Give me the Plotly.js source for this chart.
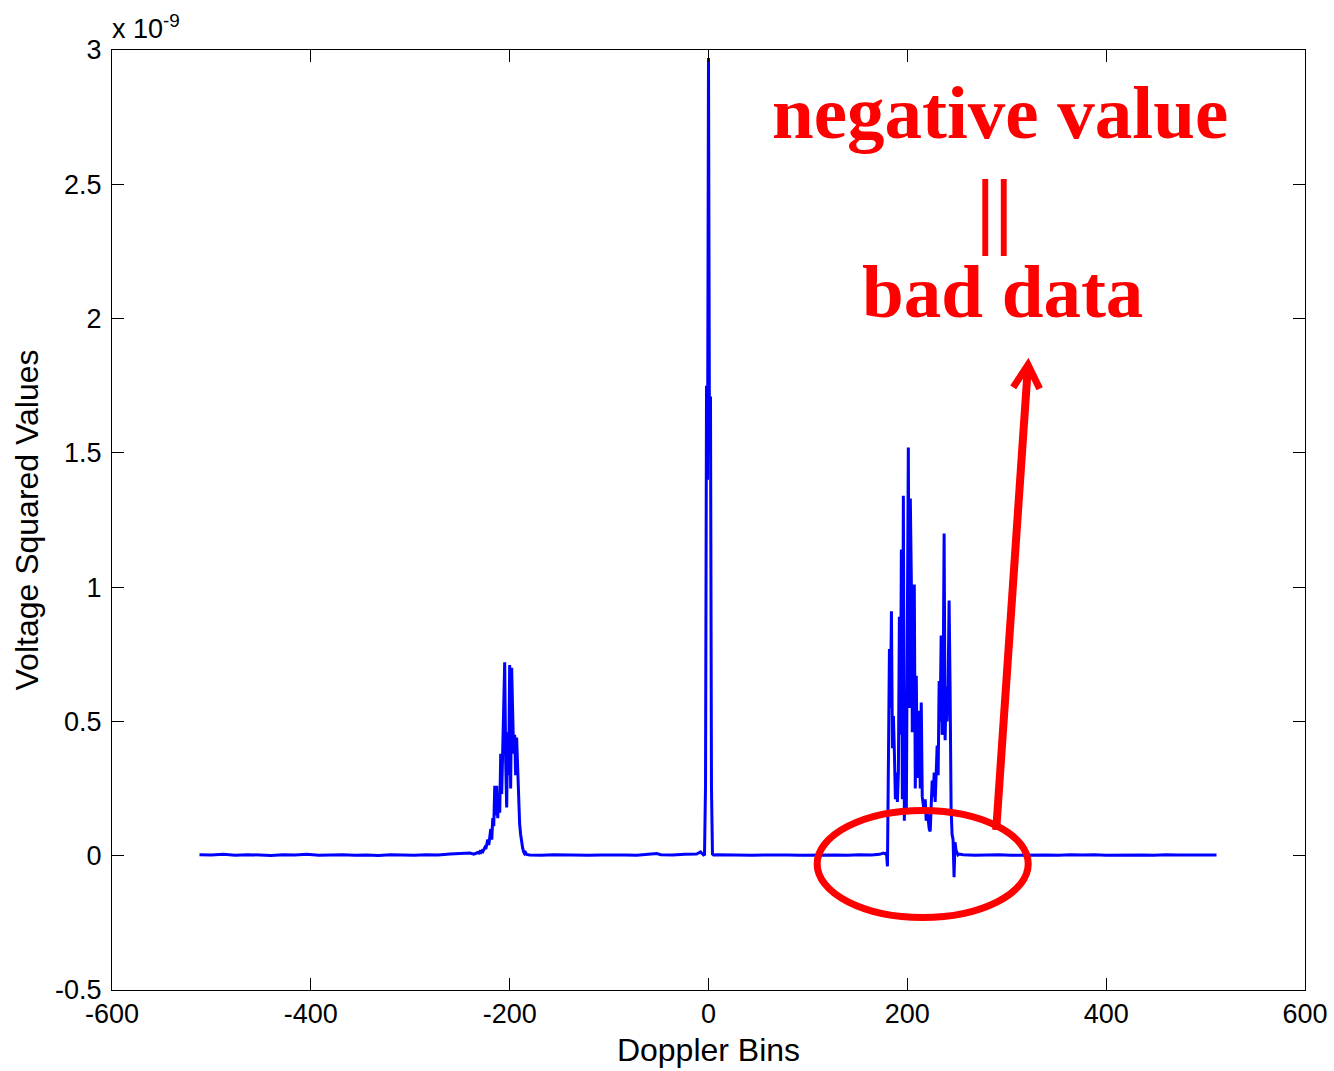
<!DOCTYPE html>
<html>
<head>
<meta charset="utf-8">
<script src="https://cdn.plot.ly/plotly-3.0.1.min.js"></script>
<style>html,body{margin:0;padding:0;background:#fff;}#chart{width:1334px;height:1071px;}</style>
</head>
<body>
<div id="chart"></div>
<script>
// Values are in units of 1e-9 (axis multiplier "x 10^-9")
var baseLeftBins = [-512,-500,-488,-476,-464,-452,-440,-428,-416,-404,-392,-380,-368,-356,-344,-332,-320,-308,-296,-284,-272,-260,-248,-240,-236,-233];
var baseLeftVals = [0.004,0.003,0.005,0.002,0.004,0.003,0.001,0.004,0.003,0.005,0.002,0.003,0.004,0.002,0.003,0.001,0.004,0.003,0.002,0.004,0.003,0.006,0.008,0.010,0.006,0.010];

var clusterLeftStart = -232;
var clusterLeftVals = [0.012,0.010,0.015,0.012,0.018,0.015,0.022,0.030,0.025,0.045,0.060,0.040,0.070,0.100,0.060,0.140,0.110,0.260,0.150,0.260,0.140,0.230,0.160,0.380,0.230,0.430,0.640,0.720,0.350,0.180,0.460,0.300,0.710,0.250,0.700,0.450,0.380,0.450,0.300,0.440,0.320,0.200,0.120,0.080,0.050,0.030,0.015,0.008,0.012,0.005];

var baseMidBins = [-180,-168,-156,-144,-132,-120,-108,-96,-84,-72,-60,-52,-48,-36,-24,-16,-12,-10,-8,-7,-6,-5];
var baseMidVals = [0.003,0.002,0.004,0.003,0.004,0.002,0.003,0.004,0.003,0.002,0.004,0.008,0.004,0.003,0.005,0.004,0.006,0.010,0.014,0.010,0.005,0.003];

var centerBins = [-4,-3,-2,-1,0,1,2,3,4,5];
var centerVals = [0.005,0.26,1.75,1.40,2.97,1.50,1.71,0.25,0.006,0.003];

var baseMid2Bins = [8,20,32,44,56,68,80,92,104,116,128,140,152,164,172,176];
var baseMid2Vals = [0.004,0.003,0.004,0.002,0.003,0.004,0.003,0.002,0.003,0.004,0.003,0.002,0.004,0.003,0.005,0.010];

var clusterRightStart = 178;
var clusterRightVals = [0.006,0.012,-0.040,0.360,0.770,0.550,0.910,0.400,0.520,0.380,0.210,0.310,0.200,0.310,0.890,0.450,1.140,0.210,1.340,0.130,0.600,0.170,1.130,1.520,0.550,1.330,1.030,0.460,0.740,1.010,0.250,0.670,0.290,0.370,0.540,0.250,0.570,0.220,0.190,0.160,0.210,0.130,0.170,0.120,0.100,0.090,0.200,0.280,0.220,0.310,0.200,0.330,0.410,0.300,0.650,0.500,0.820,0.450,0.620,1.200,0.430,0.630,0.500,0.630,0.950,0.630,0.180,0.080,0.060,-0.080,0.050,0.020,0.008,0.003,0.006];

var baseRightBins = [256,268,280,292,304,316,328,340,352,364,376,388,400,412,424,436,448,460,472,484,496,511];
var baseRightVals = [0.004,0.002,0.003,0.004,0.002,0.003,0.004,0.003,0.002,0.004,0.003,0.004,0.002,0.003,0.004,0.003,0.002,0.004,0.003,0.003,0.004,0.003];

var xTickVals = [-600,-400,-200,0,200,400,600];
var xTickText = ['-600','-400','-200','0','200','400','600'];
var yTickVals = [-0.5,0,0.5,1,1.5,2,2.5,3];
var yTickText = ['-0.5','0','0.5','1','1.5','2','2.5','3'];

function binsFrom(start, vals){ return vals.map(function(_, i){ return start + i; }); }

var dopplerBins = [].concat(baseLeftBins, binsFrom(clusterLeftStart, clusterLeftVals), baseMidBins, centerBins, baseMid2Bins, binsFrom(clusterRightStart, clusterRightVals), baseRightBins);
var voltageSq = [].concat(baseLeftVals, clusterLeftVals, baseMidVals, centerVals, baseMid2Vals, clusterRightVals, baseRightVals);

var tickFont = {family: 'Liberation Sans, Arial, sans-serif', size: 27, color: '#000'};
var titleFont = {family: 'Liberation Sans, Arial, sans-serif', size: 32, color: '#000'};
var redFont = {family: 'Liberation Serif, Times New Roman, serif', size: 75, color: '#FF0000', weight: 'bold'};
var barFont = {family: 'Liberation Serif, Times New Roman, serif', size: 84, color: '#FF0000', weight: 'bold'};

var trace = {
  x: dopplerBins, y: voltageSq, type: 'scatter', mode: 'lines',
  line: {color: '#0000FF', width: 3}, hoverinfo: 'skip'
};

var layout = {
  width: 1334, height: 1071,
  margin: {l: 112, r: 29, t: 50, b: 81},
  paper_bgcolor: '#fff', plot_bgcolor: '#fff',
  showlegend: false,
  xaxis: {
    range: [-600, 600], tickmode: 'array', tickvals: xTickVals, ticktext: xTickText,
    ticks: 'inside', ticklen: 12, tickwidth: 1, tickcolor: '#000',
    showline: true, linecolor: '#000', linewidth: 1, mirror: 'ticks',
    showgrid: false, zeroline: false, tickfont: tickFont, ticklabelstandoff: 0,
    title: {text: 'Doppler Bins', font: titleFont, standoff: 10}, automargin: false
  },
  yaxis: {
    range: [-0.5, 3], tickmode: 'array', tickvals: yTickVals, ticktext: yTickText,
    ticks: 'inside', ticklen: 12, tickwidth: 1, tickcolor: '#000',
    showline: true, linecolor: '#000', linewidth: 1, mirror: 'ticks',
    showgrid: false, zeroline: false, tickfont: tickFont, ticklabelstandoff: 4,
    title: {text: 'Voltage Squared Values', font: titleFont, standoff: 6}, automargin: false
  },
  annotations: [
    {text: 'x 10<sup>-9</sup>', xref: 'paper', yref: 'paper', x: 0, y: 1, xanchor: 'left', yanchor: 'bottom', showarrow: false, font: tickFont, xshift: -2, yshift: 4},
    {text: 'negative value', xref: 'x', yref: 'y', x: 293.7, y: 2.766, xanchor: 'center', yanchor: 'middle', showarrow: false, font: redFont},
    {text: '||', xref: 'x', yref: 'y', x: 287.5, y: 2.407, xanchor: 'center', yanchor: 'middle', showarrow: false, font: barFont},
    {text: 'bad data', xref: 'x', yref: 'y', x: 295.4, y: 2.102, xanchor: 'center', yanchor: 'middle', showarrow: false, font: redFont}
  ],
  shapes: [
    {type: 'circle', xref: 'x', yref: 'y', x0: 109.3, x1: 321.6, y0: -0.230, y1: 0.1685, line: {color: '#FF0000', width: 7}},
    {type: 'line', xref: 'x', yref: 'y', x0: 289.4, y0: 0.0959, x1: 320.9, y1: 1.8017, line: {color: '#FF0000', width: 8}},
    {type: 'path', xref: 'x', yref: 'y', path: 'M 306.5 1.7439 L 321.4 1.8277 L 333.1 1.7384', line: {color: '#FF0000', width: 7}}
  ]
};

Plotly.newPlot('chart', [trace], layout, {staticPlot: true, displayModeBar: false});
</script>
</body>
</html>
